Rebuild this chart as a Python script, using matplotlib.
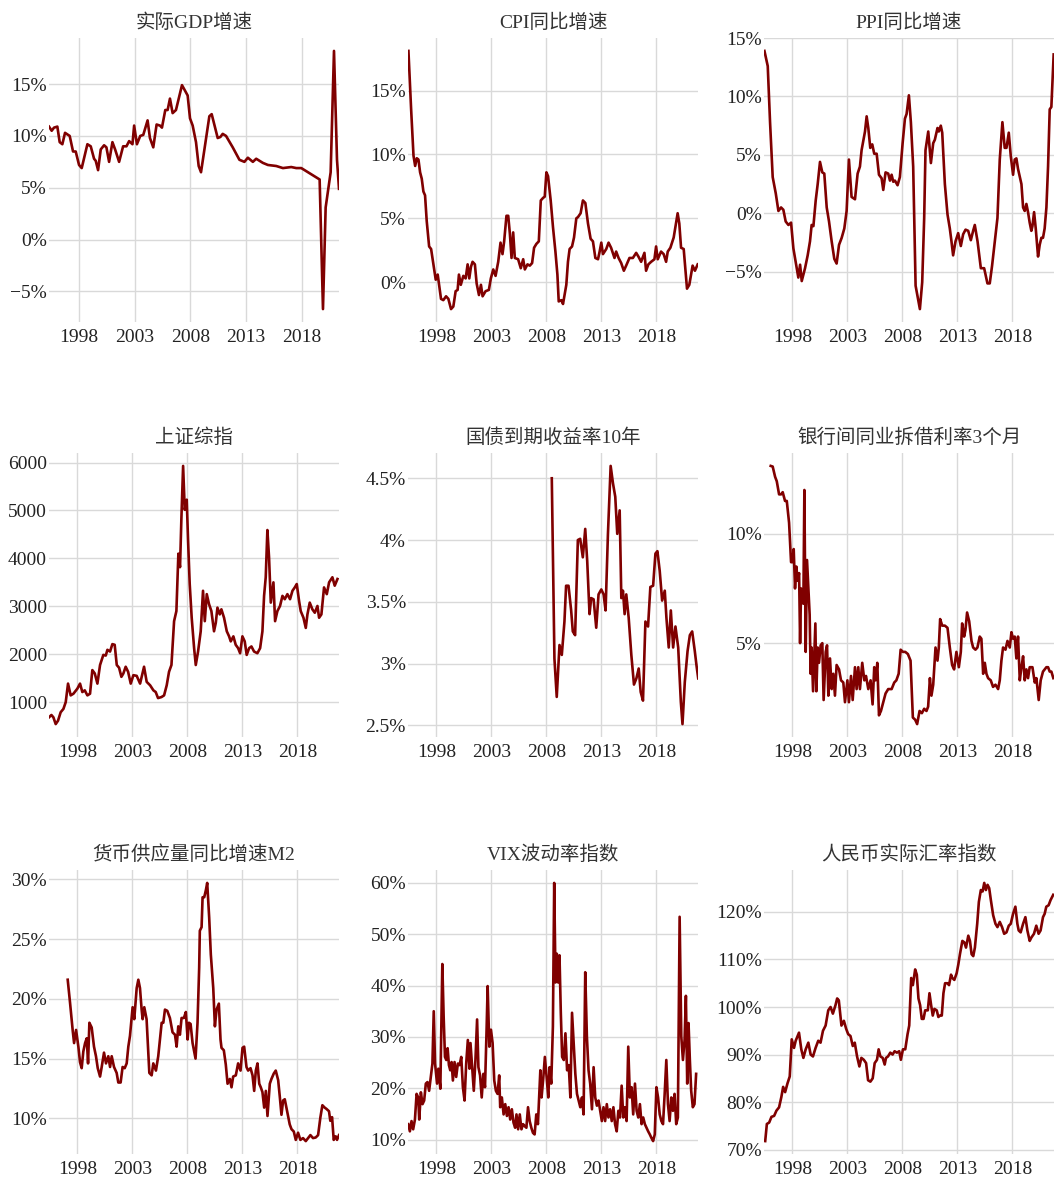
import matplotlib
matplotlib.use("Agg")
import matplotlib.pyplot as plt
from matplotlib.ticker import MultipleLocator, FixedLocator, FuncFormatter

plt.rcParams['font.family'] = ['Liberation Serif', 'Noto Sans CJK SC', 'DejaVu Sans']

# ---- data (decimal years, values) ----
gdp_t = [1995.30, 1995.54, 1995.75, 1996.05, 1996.26, 1996.50, 1996.74, 1997.16, 1997.46, 1997.70,
         1998.00, 1998.24, 1998.75, 1999.05, 1999.35, 1999.50, 1999.71, 1999.95, 2000.25, 2000.46,
         2000.70, 2001.00, 2001.24, 2001.60, 2001.96, 2002.26, 2002.50, 2002.80, 2002.95, 2003.20,
         2003.50, 2003.77, 2004.16, 2004.37, 2004.67, 2004.97, 2005.27, 2005.45, 2005.75, 2005.96,
         2006.17, 2006.41, 2006.71, 2007.25, 2007.76, 2007.97, 2008.21, 2008.51, 2008.75, 2008.96,
         2009.35, 2009.71, 2009.92, 2010.46, 2010.70, 2010.91, 2011.21, 2011.81, 2012.41, 2012.86,
         2013.17, 2013.62, 2013.92, 2014.52, 2014.97, 2015.72, 2016.32, 2017.07, 2017.52, 2017.97,
         2018.57, 2019.62, 2019.92, 2020.16, 2020.61, 2020.91, 2021.18, 2021.36]
gdp_v = [10.9, 10.5, 10.8, 10.9, 9.4, 9.2, 10.3, 10.0, 8.5, 8.5,
         7.2, 6.9, 9.2, 9.0, 7.8, 7.6, 6.7, 8.7, 9.1, 8.9,
         7.5, 9.4, 8.7, 7.5, 9.0, 9.0, 9.5, 9.2, 11.0, 9.2,
         10.0, 10.1, 11.5, 9.8, 8.9, 11.1, 11.0, 10.8, 12.5, 12.5,
         13.6, 12.2, 12.5, 14.9, 13.9, 11.7, 11.0, 9.4, 7.1, 6.5,
         9.3, 11.9, 12.1, 9.8, 9.9, 10.2, 10.0, 8.9, 7.7, 7.5,
         7.9, 7.5, 7.8, 7.4, 7.2, 7.1, 6.9, 7.0, 6.9, 6.9,
         6.5, 5.8, -6.7, 3.1, 6.5, 18.2, 7.7, 4.9]

cpi_t = [1995.46, 1995.70, 1995.92, 1996.07, 1996.22, 1996.37, 1996.52, 1996.67, 1996.82, 1996.97,
         1997.12, 1997.34, 1997.52, 1997.73, 1997.94, 1998.12, 1998.42, 1998.63, 1998.88, 1999.09,
         1999.33, 1999.54, 1999.75, 1999.93, 2000.05, 2000.22, 2000.45, 2000.66, 2000.84, 2000.99,
         2001.14, 2001.29, 2001.50, 2001.66, 2001.87, 2002.05, 2002.20, 2002.47, 2002.77, 2002.95,
         2003.17, 2003.38, 2003.62, 2003.83, 2004.01, 2004.16, 2004.37, 2004.53, 2004.68, 2004.83,
         2004.98, 2005.13, 2005.43, 2005.67, 2005.89, 2006.04, 2006.28, 2006.49, 2006.70, 2006.88,
         2007.09, 2007.31, 2007.49, 2007.70, 2007.85, 2008.00, 2008.15, 2008.39, 2008.60, 2008.82,
         2009.00, 2009.12, 2009.36, 2009.51, 2009.81, 2009.96, 2010.11, 2010.33, 2010.51, 2010.72,
         2010.87, 2011.11, 2011.32, 2011.54, 2011.78, 2012.02, 2012.23, 2012.45, 2012.69, 2012.84,
         2012.99, 2013.14, 2013.44, 2013.65, 2013.88, 2014.19, 2014.34, 2014.56, 2014.80, 2015.04,
         2015.25, 2015.55, 2015.86, 2016.16, 2016.37, 2016.61, 2016.91, 2017.06, 2017.27, 2017.52,
         2017.82, 2017.97, 2018.12, 2018.42, 2018.66, 2018.88, 2019.03, 2019.27, 2019.57, 2019.78,
         2019.93, 2020.08, 2020.24, 2020.48, 2020.78, 2020.99, 2021.29, 2021.50, 2021.75]
cpi_v = [18.1, 13.6, 9.9, 9.1, 9.7, 9.6, 8.6, 8.1, 7.1, 6.8,
         4.8, 2.8, 2.6, 1.4, 0.2, 0.6, -1.3, -1.4, -1.1, -1.3,
         -2.1, -1.9, -0.7, -0.6, 0.6, -0.2, 0.5, 0.3, 1.4, 0.3,
         1.2, 1.6, 1.4, -0.1, -1.0, -0.2, -1.1, -0.7, -0.6, 0.3,
         1.0, 0.5, 1.6, 3.1, 2.2, 3.2, 5.2, 5.2, 3.8, 1.9,
         3.9, 1.9, 1.8, 1.1, 1.8, 1.0, 1.4, 1.3, 1.5, 2.7,
         3.0, 3.2, 6.4, 6.6, 6.7, 8.6, 8.3, 6.4, 4.3, 2.4,
         0.6, -1.5, -1.4, -1.7, -0.2, 1.6, 2.6, 2.8, 3.5, 5.0,
         5.1, 5.4, 6.4, 6.2, 4.6, 3.4, 3.2, 1.9, 1.8, 2.4,
         3.1, 2.2, 2.6, 3.1, 2.7, 1.9, 2.4, 1.9, 1.5, 0.9,
         1.3, 1.9, 1.9, 2.3, 2.0, 1.6, 2.3, 0.9, 1.4, 1.6,
         1.8, 2.8, 1.8, 2.4, 2.2, 1.6, 2.4, 2.7, 3.5, 4.6,
         5.4, 4.6, 2.7, 2.6, -0.5, -0.2, 1.3, 0.9, 1.4]

ppi_t = [1995.46, 1995.76, 1995.97, 1996.21, 1996.49, 1996.73, 1996.97, 1997.18, 1997.39, 1997.64,
         1997.88, 1998.09, 1998.39, 1998.54, 1998.70, 1998.85, 1999.15, 1999.39, 1999.60, 1999.75,
         1999.91, 2000.12, 2000.30, 2000.51, 2000.72, 2000.90, 2001.12, 2001.33, 2001.57, 2001.81,
         2002.02, 2002.24, 2002.48, 2002.72, 2002.93, 2003.14, 2003.38, 2003.69, 2003.93, 2004.14,
         2004.29, 2004.60, 2004.75, 2004.90, 2005.08, 2005.26, 2005.44, 2005.66, 2005.87, 2006.11,
         2006.26, 2006.47, 2006.71, 2006.87, 2007.02, 2007.17, 2007.32, 2007.56, 2007.77, 2008.02,
         2008.23, 2008.38, 2008.59, 2008.77, 2008.98, 2009.20, 2009.44, 2009.59, 2009.80, 2009.98,
         2010.10, 2010.35, 2010.59, 2010.80, 2010.95, 2011.19, 2011.31, 2011.49, 2011.62, 2011.86,
         2012.10, 2012.31, 2012.46, 2012.61, 2012.83, 2013.07, 2013.31, 2013.52, 2013.74, 2013.98,
         2014.22, 2014.43, 2014.58, 2014.83, 2015.13, 2015.43, 2015.73, 2015.94, 2016.15, 2016.40,
         2016.64, 2016.85, 2017.09, 2017.30, 2017.46, 2017.67, 2017.85, 2018.06, 2018.21, 2018.36,
         2018.51, 2018.82, 2018.97, 2019.12, 2019.27, 2019.42, 2019.57, 2019.72, 2019.82, 2019.97,
         2020.12, 2020.33, 2020.48, 2020.63, 2020.78, 2020.93, 2021.09, 2021.24, 2021.39, 2021.54,
         2021.75]
ppi_v = [13.9, 12.6, 7.8, 3.1, 1.7, 0.2, 0.5, 0.3, -0.7, -1.0,
         -0.8, -3.0, -4.7, -5.5, -4.4, -5.8, -4.7, -3.6, -2.4, -1.0,
         -1.1, 1.1, 2.5, 4.4, 3.5, 3.4, 0.5, -0.7, -2.4, -3.9,
         -4.3, -2.7, -2.1, -1.3, 0.2, 4.6, 1.4, 1.2, 3.4, 4.0,
         5.4, 7.0, 8.3, 7.3, 5.6, 5.9, 5.1, 5.1, 3.3, 3.0,
         2.0, 3.5, 3.4, 2.8, 3.3, 2.7, 2.8, 2.4, 3.1, 6.0,
         8.1, 8.5, 10.1, 7.8, 4.0, -6.2, -7.4, -8.2, -5.9, -0.4,
         5.4, 7.0, 4.3, 6.0, 6.3, 7.3, 7.0, 7.5, 6.9, 2.5,
         -0.1, -1.3, -2.4, -3.6, -2.4, -1.7, -2.8, -1.8, -1.4, -1.5,
         -2.3, -1.5, -1.0, -2.4, -4.7, -4.7, -6.0, -6.0, -4.5, -2.4,
         -0.4, 4.6, 7.8, 5.6, 5.6, 6.9, 4.9, 3.3, 4.6, 4.7,
         3.8, 2.5, 0.5, 0.2, 0.8, 0.1, -0.8, -1.5, -1.1, 0.1,
         -1.3, -3.7, -2.7, -2.1, -2.1, -1.3, 0.5, 4.0, 8.9, 9.1,
         13.6]

sh_t = [1995.42, 1995.64, 1995.82, 1996.03, 1996.24, 1996.48, 1996.73, 1996.94, 1997.15, 1997.39,
        1997.64, 1998.00, 1998.24, 1998.45, 1998.67, 1998.91, 1999.15, 1999.36, 1999.58, 1999.82,
        2000.06, 2000.36, 2000.58, 2000.73, 2000.97, 2001.18, 2001.39, 2001.58, 2001.79, 2002.00,
        2002.18, 2002.39, 2002.61, 2002.85, 2003.09, 2003.39, 2003.70, 2004.06, 2004.30, 2004.61,
        2004.91, 2005.12, 2005.33, 2005.64, 2005.88, 2006.12, 2006.33, 2006.55, 2006.79, 2007.00,
        2007.18, 2007.33, 2007.45, 2007.61, 2007.76, 2007.94, 2008.06, 2008.21, 2008.39, 2008.61,
        2008.76, 2008.97, 2009.21, 2009.42, 2009.58, 2009.76, 2009.97, 2010.18, 2010.42, 2010.58,
        2010.73, 2010.94, 2011.09, 2011.33, 2011.58, 2011.79, 2011.94, 2012.18, 2012.39, 2012.61,
        2012.79, 2013.00, 2013.21, 2013.39, 2013.61, 2013.82, 2014.06, 2014.36, 2014.61, 2014.82,
        2014.97, 2015.12, 2015.27, 2015.42, 2015.58, 2015.82, 2015.97, 2016.18, 2016.42, 2016.64,
        2016.85, 2017.09, 2017.33, 2017.55, 2017.76, 2017.94, 2018.15, 2018.30, 2018.55, 2018.76,
        2018.91, 2019.12, 2019.36, 2019.58, 2019.82, 2019.97, 2020.18, 2020.42, 2020.67, 2020.88,
        2021.18, 2021.39, 2021.64]
sh_v = [683, 732, 683, 542, 613, 789, 859, 1000, 1387, 1141,
        1176, 1282, 1387, 1211, 1246, 1141, 1176, 1669, 1599, 1387,
        1775, 1986, 1972, 2092, 2056, 2211, 2197, 1775, 1718, 1528,
        1599, 1739, 1634, 1387, 1563, 1549, 1387, 1739, 1423, 1352,
        1246, 1211, 1085, 1106, 1141, 1352, 1634, 1775, 2690, 2901,
        4099, 3817, 4803, 5930, 5014, 5225, 4380, 3465, 2761, 2127,
        1775, 2056, 2479, 3324, 2690, 3254, 3042, 2901, 2479, 2655,
        2972, 2831, 2937, 2761, 2479, 2373, 2268, 2373, 2197, 2127,
        2021, 2373, 2268, 1986, 2127, 2162, 2056, 2021, 2127, 2479,
        3218, 3606, 4592, 4028, 3077, 3500, 2690, 2901, 3007, 3218,
        3148, 3254, 3148, 3324, 3394, 3465, 3113, 2901, 2761, 2549,
        2831, 3077, 2937, 2866, 3007, 2761, 2831, 3394, 3254, 3500,
        3606, 3430, 3570]

bond_t = [2008.49, 2008.73, 2008.94, 2009.19, 2009.40, 2009.64, 2009.79, 2010.01, 2010.25, 2010.40,
          2010.61, 2010.86, 2011.07, 2011.31, 2011.53, 2011.71, 2011.92, 2012.07, 2012.29, 2012.53,
          2012.74, 2012.99, 2013.20, 2013.38, 2013.59, 2013.84, 2014.05, 2014.26, 2014.44, 2014.66,
          2014.81, 2014.96, 2015.11, 2015.26, 2015.48, 2015.72, 2015.96, 2016.18, 2016.39, 2016.57,
          2016.78, 2017.00, 2017.24, 2017.45, 2017.70, 2017.91, 2018.09, 2018.30, 2018.52, 2018.76,
          2018.91, 2019.12, 2019.31, 2019.52, 2019.73, 2019.98, 2020.22, 2020.37, 2020.58, 2020.83,
          2021.04, 2021.25, 2021.49, 2021.65, 2021.80]
bond_v = [4.50, 3.04, 2.73, 3.15, 3.07, 3.34, 3.63, 3.63, 3.43, 3.26,
          3.23, 4.00, 4.01, 3.86, 4.09, 3.83, 3.40, 3.53, 3.52, 3.29,
          3.56, 3.60, 3.56, 3.43, 4.04, 4.60, 4.46, 4.35, 4.05, 4.24,
          3.53, 3.59, 3.40, 3.56, 3.37, 3.07, 2.83, 2.88, 2.96, 2.77,
          2.70, 3.34, 3.30, 3.62, 3.63, 3.89, 3.91, 3.75, 3.51, 3.59,
          3.37, 3.13, 3.43, 3.13, 3.30, 3.13, 2.69, 2.51, 2.85, 3.10,
          3.23, 3.26, 3.10, 2.98, 2.88]

ibor_t = [1996.03, 1996.21, 1996.43, 1996.58, 1996.79, 1996.97, 1997.12, 1997.33, 1997.49, 1997.70,
          1997.88, 1998.00, 1998.12, 1998.24, 1998.36, 1998.48, 1998.61, 1998.70, 1998.79, 1998.91,
          1999.00, 1999.09, 1999.21, 1999.33, 1999.45, 1999.57, 1999.66, 1999.75, 1999.88, 2000.00,
          2000.09, 2000.18, 2000.30, 2000.42, 2000.57, 2000.72, 2000.84, 2001.03, 2001.15, 2001.27,
          2001.42, 2001.57, 2001.72, 2001.87, 2002.02, 2002.24, 2002.42, 2002.63, 2002.78, 2003.00,
          2003.14, 2003.33, 2003.48, 2003.69, 2003.84, 2003.99, 2004.14, 2004.35, 2004.54, 2004.69,
          2004.90, 2005.11, 2005.29, 2005.44, 2005.56, 2005.72, 2005.87, 2006.05, 2006.26, 2006.47,
          2006.71, 2007.02, 2007.26, 2007.45, 2007.66, 2007.84, 2008.05, 2008.26, 2008.50, 2008.74,
          2008.95, 2009.16, 2009.34, 2009.56, 2009.77, 2009.98, 2010.19, 2010.34, 2010.50, 2010.64,
          2010.80, 2011.01, 2011.19, 2011.31, 2011.43, 2011.62, 2011.86, 2012.10, 2012.31, 2012.52,
          2012.70, 2012.91, 2013.13, 2013.31, 2013.43, 2013.61, 2013.73, 2013.88, 2014.07, 2014.28,
          2014.43, 2014.64, 2014.82, 2015.03, 2015.18, 2015.34, 2015.49, 2015.64, 2015.79, 2016.03,
          2016.24, 2016.46, 2016.70, 2016.85, 2017.00, 2017.15, 2017.37, 2017.55, 2017.76, 2017.91,
          2018.06, 2018.21, 2018.36, 2018.51, 2018.67, 2018.82, 2018.97, 2019.12, 2019.27, 2019.42,
          2019.57, 2019.82, 2020.03, 2020.18, 2020.39, 2020.57, 2020.78, 2021.09, 2021.24, 2021.39,
          2021.54, 2021.72]
ibor_v = [13.1, 13.07, 12.6, 12.4, 11.8, 11.8, 11.9, 11.5, 11.5, 10.5,
          8.7, 8.7, 9.3, 7.5, 8.5, 7.85, 8.2, 5.0, 7.5, 7.1,
          6.8, 12.0, 4.6, 8.8, 7.5, 6.3, 3.6, 4.8, 2.8, 4.6,
          5.9, 2.8, 4.8, 4.1, 4.9, 5.0, 2.4, 4.6, 4.9, 2.6,
          4.3, 2.9, 3.6, 2.6, 4.0, 3.8, 3.3, 3.2, 2.3, 3.3,
          2.3, 3.5, 2.4, 3.9, 2.9, 3.9, 2.9, 4.1, 3.3, 3.5,
          2.9, 3.3, 2.2, 3.9, 3.3, 4.1, 1.7, 1.9, 2.3, 2.7,
          2.9, 2.9, 3.2, 3.3, 3.6, 4.7, 4.6, 4.6, 4.5, 4.2,
          1.6, 1.5, 1.3, 1.9, 1.8, 2.0, 1.9, 2.1, 3.4, 2.6,
          3.1, 4.8, 4.2, 4.8, 6.1, 5.8, 5.8, 5.7, 4.8, 4.0,
          3.8, 4.6, 3.9, 4.6, 5.9, 5.3, 5.6, 6.4, 6.0, 5.1,
          4.8, 4.7, 4.8, 5.3, 5.2, 3.6, 4.1, 3.6, 3.4, 3.3,
          3.0, 3.1, 2.9, 3.3, 4.2, 4.8, 4.7, 5.1, 4.8, 5.5,
          5.2, 5.3, 4.3, 5.3, 3.3, 3.9, 4.4, 3.3, 3.8, 3.4,
          3.9, 3.9, 3.2, 3.4, 2.4, 3.3, 3.7, 3.9, 3.9, 3.7,
          3.7, 3.4]

m2_t = [1997.12, 1997.33, 1997.58, 1997.70, 1997.88, 1998.09, 1998.24, 1998.39, 1998.54, 1998.70,
        1998.85, 1998.97, 1999.09, 1999.30, 1999.51, 1999.69, 1999.85, 2000.06, 2000.21, 2000.42,
        2000.60, 2000.81, 2000.97, 2001.12, 2001.33, 2001.57, 2001.72, 2001.93, 2002.11, 2002.30,
        2002.48, 2002.63, 2002.78, 2003.02, 2003.17, 2003.39, 2003.54, 2003.69, 2003.84, 2003.93,
        2004.08, 2004.29, 2004.54, 2004.75, 2004.90, 2005.14, 2005.35, 2005.66, 2005.81, 2005.96,
        2006.17, 2006.41, 2006.65, 2006.87, 2007.02, 2007.17, 2007.32, 2007.47, 2007.68, 2007.86,
        2008.02, 2008.14, 2008.29, 2008.47, 2008.59, 2008.74, 2008.92, 2009.07, 2009.13, 2009.29,
        2009.38, 2009.53, 2009.68, 2009.80, 2009.98, 2010.13, 2010.35, 2010.50, 2010.65, 2010.86,
        2011.01, 2011.10, 2011.31, 2011.49, 2011.65, 2011.86, 2012.01, 2012.16, 2012.40, 2012.61,
        2012.83, 2013.01, 2013.16, 2013.37, 2013.52, 2013.74, 2013.92, 2014.07, 2014.22, 2014.37,
        2014.53, 2014.67, 2014.82, 2014.98, 2015.13, 2015.28, 2015.49, 2015.64, 2015.85, 2016.03,
        2016.25, 2016.40, 2016.55, 2016.70, 2016.85, 2017.06, 2017.30, 2017.46, 2017.67, 2017.85,
        2018.06, 2018.27, 2018.51, 2018.76, 2018.97, 2019.18, 2019.42, 2019.66, 2019.88, 2020.09,
        2020.27, 2020.48, 2020.63, 2020.87, 2020.99, 2021.15, 2021.30, 2021.48, 2021.60, 2021.78]
m2_v = [21.6, 19.7, 17.3, 16.3, 17.4, 16.0, 14.7, 14.2, 15.6, 16.3,
        16.7, 14.6, 18.0, 17.6, 16.0, 15.2, 14.2, 13.5, 14.3, 15.5,
        14.6, 15.2, 14.3, 15.2, 14.3, 13.8, 13.0, 13.0, 14.3, 14.2,
        14.6, 16.0, 16.9, 19.3, 18.3, 20.9, 21.6, 20.9, 19.1, 18.3,
        19.3, 18.3, 13.8, 13.6, 14.6, 14.0, 15.2, 18.0, 18.0, 19.1,
        19.0, 18.4, 17.2, 17.0, 16.0, 17.7, 17.0, 18.4, 18.4, 18.9,
        16.6, 18.0, 17.9, 16.3, 15.7, 15.0, 18.0, 22.6, 25.7, 26.0,
        28.5, 28.5, 29.1, 29.7, 26.8, 23.7, 20.9, 17.7, 19.1, 19.6,
        16.6, 15.9, 15.7, 14.5, 12.9, 13.3, 12.6, 13.5, 13.6, 14.6,
        14.0, 15.9, 16.0, 14.3, 14.0, 14.2, 13.6, 12.3, 14.0, 14.6,
        12.9, 12.6, 12.2, 10.9, 12.3, 10.2, 12.9, 13.3, 13.75, 14.0,
        13.2, 11.8, 10.3, 11.5, 11.6, 10.6, 9.5, 9.1, 8.9, 8.2,
        8.8, 8.2, 8.35, 8.1, 8.35, 8.6, 8.35, 8.4, 8.6, 10.1,
        11.1, 10.9, 10.8, 10.6, 9.8, 10.1, 8.2, 8.5, 8.2, 8.6]

vix_t = [1995.44, 1995.59, 1995.74, 1995.89, 1996.05, 1996.20, 1996.35, 1996.44, 1996.59, 1996.74,
         1996.89, 1997.04, 1997.19, 1997.34, 1997.49, 1997.64, 1997.76, 1997.88, 1998.06, 1998.18,
         1998.36, 1998.54, 1998.66, 1998.78, 1998.90, 1999.02, 1999.14, 1999.26, 1999.38, 1999.50,
         1999.65, 1999.80, 1999.95, 2000.11, 2000.26, 2000.41, 2000.56, 2000.71, 2000.86, 2001.01,
         2001.10, 2001.25, 2001.40, 2001.55, 2001.70, 2001.82, 2001.97, 2002.12, 2002.27, 2002.42,
         2002.57, 2002.66, 2002.81, 2002.96, 2003.11, 2003.26, 2003.41, 2003.56, 2003.71, 2003.80,
         2003.95, 2004.11, 2004.26, 2004.41, 2004.56, 2004.71, 2004.86, 2005.01, 2005.16, 2005.28,
         2005.43, 2005.58, 2005.73, 2005.88, 2006.03, 2006.18, 2006.33, 2006.48, 2006.63, 2006.78,
         2006.93, 2007.08, 2007.23, 2007.45, 2007.56, 2007.71, 2007.86, 2008.02, 2008.17, 2008.29,
         2008.44, 2008.59, 2008.71, 2008.83, 2008.95, 2009.07, 2009.19, 2009.31, 2009.43, 2009.58,
         2009.73, 2009.88, 2010.03, 2010.18, 2010.33, 2010.48, 2010.63, 2010.78, 2010.93, 2011.08,
         2011.23, 2011.38, 2011.53, 2011.68, 2011.83, 2011.98, 2012.14, 2012.29, 2012.44, 2012.59,
         2012.74, 2012.89, 2013.04, 2013.19, 2013.34, 2013.49, 2013.64, 2013.79, 2013.94, 2014.09,
         2014.24, 2014.39, 2014.54, 2014.69, 2014.84, 2014.99, 2015.14, 2015.29, 2015.44, 2015.59,
         2015.74, 2015.89, 2016.05, 2016.20, 2016.35, 2016.50, 2016.65, 2016.80, 2016.95, 2017.10,
         2017.25, 2017.40, 2017.55, 2017.70, 2017.85, 2018.00, 2018.15, 2018.30, 2018.45, 2018.60,
         2018.75, 2018.90, 2019.05, 2019.20, 2019.35, 2019.50, 2019.65, 2019.80, 2019.95, 2020.11,
         2020.26, 2020.41, 2020.56, 2020.68, 2020.80, 2020.92, 2021.04, 2021.16, 2021.31, 2021.46,
         2021.61]
vix_v = [13.0, 11.6, 13.6, 12.0, 13.9, 18.9, 18.2, 13.9, 19.2, 16.9,
         17.6, 20.9, 21.2, 19.5, 22.2, 24.8, 35.0, 24.8, 20.9, 23.8,
         19.9, 44.2, 34.0, 26.1, 25.5, 27.8, 24.5, 23.5, 25.1, 21.5,
         25.1, 22.2, 24.8, 24.5, 26.1, 20.2, 17.6, 24.8, 29.4, 23.8,
         28.8, 24.1, 19.5, 25.5, 33.4, 24.1, 22.5, 18.2, 22.8, 20.2,
         32.0, 39.9, 28.1, 31.4, 28.8, 21.5, 19.5, 18.9, 22.5, 16.3,
         18.2, 14.9, 16.9, 14.6, 16.3, 13.9, 15.9, 13.3, 12.3, 14.9,
         12.0, 14.9, 12.0, 13.0, 12.6, 12.3, 16.3, 13.6, 12.3, 11.3,
         11.0, 14.9, 13.0, 23.5, 18.2, 21.8, 26.1, 22.2, 18.2, 24.1,
         20.9, 32.0, 60.0, 40.6, 46.2, 40.6, 45.9, 34.7, 26.1, 25.5,
         30.7, 23.5, 24.5, 18.2, 34.7, 28.8, 22.8, 18.9, 17.6, 16.3,
         18.2, 14.9, 42.6, 30.1, 23.5, 20.9, 15.9, 24.1, 18.2, 16.6,
         17.6, 15.6, 13.6, 16.3, 13.6, 16.9, 14.3, 15.9, 13.6, 16.3,
         13.0, 11.6, 15.6, 14.3, 20.5, 14.3, 16.3, 13.6, 28.1, 18.2,
         20.2, 14.9, 20.9, 15.6, 14.3, 16.9, 13.0, 14.3, 13.0, 12.3,
         11.6, 11.0, 10.3, 9.7, 11.0, 20.2, 18.2, 14.9, 13.6, 13.0,
         18.9, 25.5, 16.9, 13.6, 18.2, 15.6, 18.9, 13.0, 14.3, 53.4,
         30.1, 25.5, 29.4, 38.0, 20.9, 32.7, 25.5, 19.5, 16.3, 16.9,
         22.8]

reer_t = [1995.53, 1995.68, 1995.89, 1996.10, 1996.34, 1996.55, 1996.79, 1997.00, 1997.16, 1997.34,
          1997.55, 1997.76, 1997.94, 1998.15, 1998.30, 1998.60, 1998.81, 1999.00, 1999.21, 1999.45,
          1999.66, 1999.87, 2000.11, 2000.35, 2000.56, 2000.78, 2001.02, 2001.26, 2001.47, 2001.68,
          2001.92, 2002.07, 2002.22, 2002.46, 2002.68, 2002.89, 2003.07, 2003.28, 2003.49, 2003.67,
          2003.88, 2004.09, 2004.27, 2004.49, 2004.70, 2004.88, 2005.09, 2005.30, 2005.48, 2005.69,
          2005.84, 2006.00, 2006.21, 2006.39, 2006.51, 2006.69, 2006.90, 2007.11, 2007.29, 2007.50,
          2007.71, 2007.86, 2008.05, 2008.26, 2008.47, 2008.62, 2008.80, 2008.95, 2009.16, 2009.31,
          2009.46, 2009.61, 2009.76, 2009.92, 2010.07, 2010.31, 2010.46, 2010.61, 2010.76, 2010.91,
          2011.12, 2011.27, 2011.42, 2011.58, 2011.73, 2011.88, 2012.09, 2012.24, 2012.42, 2012.54,
          2012.72, 2012.93, 2013.08, 2013.23, 2013.45, 2013.63, 2013.78, 2013.99, 2014.14, 2014.29,
          2014.44, 2014.59, 2014.80, 2014.95, 2015.13, 2015.29, 2015.44, 2015.59, 2015.74, 2015.89,
          2016.04, 2016.25, 2016.46, 2016.64, 2016.85, 2017.06, 2017.25, 2017.46, 2017.67, 2017.85,
          2018.06, 2018.27, 2018.45, 2018.57, 2018.75, 2018.97, 2019.18, 2019.36, 2019.57, 2019.72,
          2019.96, 2020.17, 2020.38, 2020.56, 2020.78, 2020.93, 2021.08, 2021.29, 2021.47, 2021.71]
reer_v = [71.8, 75.4, 75.7, 76.9, 77.1, 78.2, 78.9, 81.1, 83.2, 82.1,
          83.9, 85.4, 93.2, 91.4, 92.9, 94.6, 91.1, 89.3, 91.1, 92.5,
          90.0, 89.6, 91.4, 92.9, 92.5, 95.0, 96.1, 99.3, 100.0, 98.6,
          100.4, 101.8, 101.4, 96.1, 97.1, 95.4, 94.3, 93.9, 91.8, 92.5,
          89.6, 87.5, 89.3, 88.9, 88.2, 84.6, 84.3, 85.0, 88.2, 88.9,
          91.1, 89.6, 89.3, 87.9, 89.3, 89.6, 90.4, 90.0, 90.7, 90.4,
          90.7, 88.9, 91.1, 91.1, 94.3, 96.1, 106.1, 104.6, 107.9, 106.8,
          101.8, 100.4, 97.5, 97.5, 99.3, 99.3, 102.9, 100.4, 98.2, 99.6,
          99.3, 97.9, 98.2, 98.2, 102.9, 105.0, 105.0, 104.6, 106.8, 106.1,
          105.7, 107.1, 108.9, 111.1, 113.9, 113.6, 112.5, 115.0, 113.9, 111.1,
          110.7, 112.5, 117.5, 122.1, 124.6, 124.3, 126.1, 124.6, 125.7, 125.0,
          122.5, 119.3, 117.5, 116.8, 117.9, 116.8, 115.4, 115.7, 117.1, 117.5,
          119.6, 121.1, 117.5, 116.1, 115.7, 117.5, 118.9, 116.1, 113.9, 114.6,
          115.4, 117.1, 115.4, 116.1, 118.9, 119.6, 121.1, 121.4, 122.5, 123.6]

year_ticks = [1998, 2003, 2008, 2013, 2018]
date_range = (1995.42, 2021.78)

panels = [
    ('实际GDP增速', gdp_t, gdp_v, 5, True),
    ('CPI同比增速', cpi_t, cpi_v, 5, True),
    ('PPI同比增速', ppi_t, ppi_v, 5, True),
    ('上证综指', sh_t, sh_v, 1000, False),
    ('国债到期收益率10年', bond_t, bond_v, 0.5, True),
    ('银行间同业拆借利率3个月', ibor_t, ibor_v, 5, True),
    ('货币供应量同比增速M2', m2_t, m2_v, 5, True),
    ('VIX波动率指数', vix_t, vix_v, 10, True),
    ('人民币实际汇率指数', reer_t, reer_v, 10, True),
]


def pct_fmt(v, pos):
    return f'{v:g}%'.replace('-', '\u2212')


def plain_fmt(v, pos):
    return f'{v:g}'.replace('-', '\u2212')


W, H = 1054, 1183
lefts = [49, 408, 764]
tops = [38, 453, 870]
aw, ah = 290, 284

fig = plt.figure(figsize=(W / 100, H / 100), dpi=100)

for i, (title, t, v, step, is_pct) in enumerate(panels):
    r, c = divmod(i, 3)
    ax = fig.add_axes([lefts[c] / W, 1 - (tops[r] + ah) / H, aw / W, ah / H])
    ax.plot(t, v, color='#800000', lw=1.9, solid_joinstyle='round')
    if i == 0:
        ax.set_xlim(t[0], t[-1])
    else:
        ax.set_xlim(*date_range)
    ax.xaxis.set_major_locator(FixedLocator(year_ticks))
    ax.yaxis.set_major_locator(MultipleLocator(step))
    ax.yaxis.set_major_formatter(FuncFormatter(pct_fmt if is_pct else plain_fmt))
    ax.grid(True, color='#d9d9d9', lw=1.0)
    ax.set_axisbelow(True)
    for s in ax.spines.values():
        s.set_visible(False)
    ax.tick_params(axis='both', length=0, labelsize=14, colors='#222222')
    ax.tick_params(axis='x', pad=5)
    ax.tick_params(axis='y', pad=1.5)
    ax.set_title(title, fontsize=14, color='#333333', pad=7)

fig.savefig('out.png', dpi=100)
